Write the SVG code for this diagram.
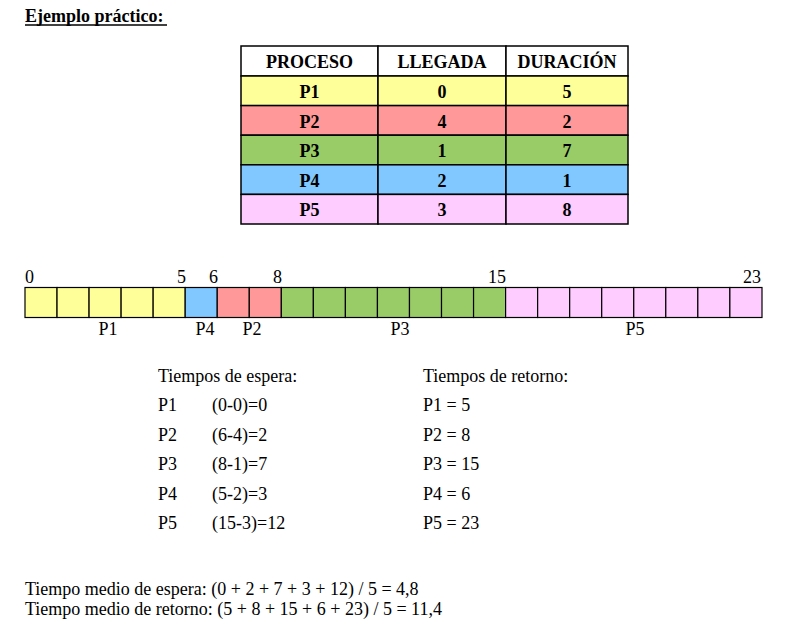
<svg xmlns="http://www.w3.org/2000/svg" width="787" height="627" viewBox="0 0 787 627">
<style>
text{font-family:"Liberation Serif","Times New Roman",serif;font-size:18px;fill:#000}
.b{font-weight:bold}
.c{text-anchor:middle}
.e{text-anchor:end}
.cell{stroke:#000;stroke-width:1.5}
.g{stroke:#000;stroke-width:1.2}
.y{fill:#FFFF99}.r{fill:#FF9999}.gr{fill:#99CC66}.bl{fill:#80C8FF}.p{fill:#FFCCFF}.w{fill:#fff}
</style>
<rect width="787" height="627" fill="#fff"/>
<g id="title">
<text class="b" x="25" y="22">Ejemplo práctico:</text>
<line x1="25" y1="25" x2="167" y2="25" stroke="#000" stroke-width="1.3"/>
</g>
<g id="table">
<rect class="cell w" x="241" y="46" width="137" height="30"/>
<rect class="cell w" x="378" y="46" width="128" height="30"/>
<rect class="cell w" x="506" y="46" width="122" height="30"/>
<rect class="cell y" x="241" y="76" width="137" height="29.6"/>
<rect class="cell y" x="378" y="76" width="128" height="29.6"/>
<rect class="cell y" x="506" y="76" width="122" height="29.6"/>
<rect class="cell r" x="241" y="105.6" width="137" height="29.6"/>
<rect class="cell r" x="378" y="105.6" width="128" height="29.6"/>
<rect class="cell r" x="506" y="105.6" width="122" height="29.6"/>
<rect class="cell gr" x="241" y="135.2" width="137" height="29.6"/>
<rect class="cell gr" x="378" y="135.2" width="128" height="29.6"/>
<rect class="cell gr" x="506" y="135.2" width="122" height="29.6"/>
<rect class="cell bl" x="241" y="164.8" width="137" height="29.6"/>
<rect class="cell bl" x="378" y="164.8" width="128" height="29.6"/>
<rect class="cell bl" x="506" y="164.8" width="122" height="29.6"/>
<rect class="cell p" x="241" y="194.4" width="137" height="29.6"/>
<rect class="cell p" x="378" y="194.4" width="128" height="29.6"/>
<rect class="cell p" x="506" y="194.4" width="122" height="29.6"/>
<text class="b c" x="309.5" y="68">PROCESO</text>
<text class="b c" x="442" y="68">LLEGADA</text>
<text class="b c" x="567" y="68">DURACIÓN</text>
<text class="b c" x="309.5" y="98">P1</text><text class="b c" x="442" y="98">0</text><text class="b c" x="567" y="98">5</text>
<text class="b c" x="309.5" y="127.6">P2</text><text class="b c" x="442" y="127.6">4</text><text class="b c" x="567" y="127.6">2</text>
<text class="b c" x="309.5" y="157.2">P3</text><text class="b c" x="442" y="157.2">1</text><text class="b c" x="567" y="157.2">7</text>
<text class="b c" x="309.5" y="186.8">P4</text><text class="b c" x="442" y="186.8">2</text><text class="b c" x="567" y="186.8">1</text>
<text class="b c" x="309.5" y="216.4">P5</text><text class="b c" x="442" y="216.4">3</text><text class="b c" x="567" y="216.4">8</text>
</g>
<g id="gantt">
<rect class="g y" x="25" y="287.5" width="32.04" height="30"/>
<rect class="g y" x="57.04" y="287.5" width="32.04" height="30"/>
<rect class="g y" x="89.08" y="287.5" width="32.04" height="30"/>
<rect class="g y" x="121.12" y="287.5" width="32.04" height="30"/>
<rect class="g y" x="153.16" y="287.5" width="32.04" height="30"/>
<rect class="g bl" x="185.2" y="287.5" width="32.04" height="30"/>
<rect class="g r" x="217.24" y="287.5" width="32.04" height="30"/>
<rect class="g r" x="249.28" y="287.5" width="32.04" height="30"/>
<rect class="g gr" x="281.32" y="287.5" width="32.04" height="30"/>
<rect class="g gr" x="313.36" y="287.5" width="32.04" height="30"/>
<rect class="g gr" x="345.4" y="287.5" width="32.04" height="30"/>
<rect class="g gr" x="377.44" y="287.5" width="32.04" height="30"/>
<rect class="g gr" x="409.48" y="287.5" width="32.04" height="30"/>
<rect class="g gr" x="441.52" y="287.5" width="32.04" height="30"/>
<rect class="g gr" x="473.56" y="287.5" width="32.04" height="30"/>
<rect class="g p" x="505.6" y="287.5" width="32.04" height="30"/>
<rect class="g p" x="537.64" y="287.5" width="32.04" height="30"/>
<rect class="g p" x="569.68" y="287.5" width="32.04" height="30"/>
<rect class="g p" x="601.72" y="287.5" width="32.04" height="30"/>
<rect class="g p" x="633.76" y="287.5" width="32.04" height="30"/>
<rect class="g p" x="665.8" y="287.5" width="32.04" height="30"/>
<rect class="g p" x="697.84" y="287.5" width="32.04" height="30"/>
<rect class="g p" x="729.88" y="287.5" width="32.12" height="30"/>
<text x="25" y="283">0</text>
<text class="e" x="186" y="283">5</text>
<text class="e" x="218" y="283">6</text>
<text class="e" x="282" y="283">8</text>
<text class="e" x="506" y="283">15</text>
<text class="e" x="761" y="283">23</text>
<text class="c" x="108" y="335">P1</text>
<text class="c" x="205" y="335">P4</text>
<text class="c" x="252" y="335">P2</text>
<text class="c" x="400" y="335">P3</text>
<text class="c" x="635" y="335">P5</text>
</g>
<g id="espera">
<text x="158" y="382">Tiempos de espera:</text>
<text x="158" y="411">P1</text><text x="212" y="411">(0-0)=0</text>
<text x="158" y="440.5">P2</text><text x="212" y="440.5">(6-4)=2</text>
<text x="158" y="470">P3</text><text x="212" y="470">(8-1)=7</text>
<text x="158" y="499.5">P4</text><text x="212" y="499.5">(5-2)=3</text>
<text x="158" y="529">P5</text><text x="212" y="529">(15-3)=12</text>
</g>
<g id="retorno">
<text x="423" y="382">Tiempos de retorno:</text>
<text x="423" y="411">P1 = 5</text>
<text x="423" y="440.5">P2 = 8</text>
<text x="423" y="470">P3 = 15</text>
<text x="423" y="499.5">P4 = 6</text>
<text x="423" y="529">P5 = 23</text>
</g>
<g id="medias">
<text x="25" y="595">Tiempo medio de espera: (0 + 2 + 7 + 3 + 12) / 5 = 4,8</text>
<text x="25" y="615">Tiempo medio de retorno: (5 + 8 + 15 + 6 + 23) / 5 = 11,4</text>
</g>
</svg>
